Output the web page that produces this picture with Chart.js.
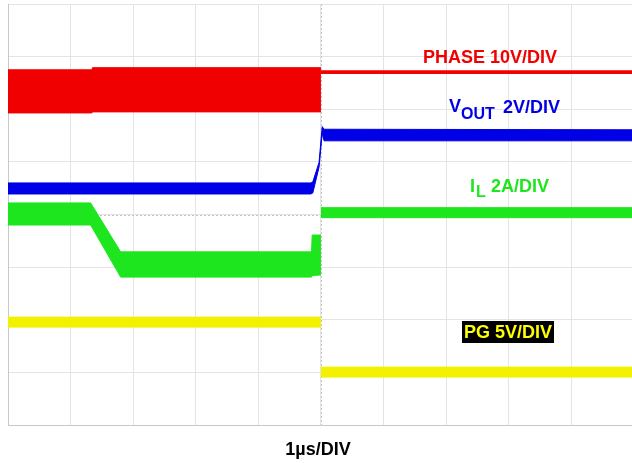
<!DOCTYPE html>
<html>
<head>
<meta charset="utf-8">
<script src="https://cdn.jsdelivr.net/npm/chart.js@4.4.1/dist/chart.umd.min.js"></script>
<style>
  html, body { margin: 0; padding: 0; background: #fff; }
</style>
</head>
<body>
<canvas id="scope" width="632" height="463"></canvas>
<script>
// x = time in divisions (1µs/DIV), y = screen divisions counted from the bottom
// each trace is an envelope: Hi / Lo edges of the switching band, null = break

const phaseX  = [0,    1.34, 1.35, 5.0,  5.0,  5.0,  9.97];
const phaseHi = [6.75, 6.75, 6.79, 6.79, null, 6.73, 6.73];
const phaseLo = [5.93, 5.93, 5.95, 5.95, null, 6.68, 6.68];

const voutX  = [0,    4.84, 4.87, 4.97, 5.02, 5.05, 9.97];
const voutHi = [4.60, 4.60, 4.62, 4.99, 5.67, 5.62, 5.61];
const voutLo = [4.39, 4.39, 4.41, 4.90, 5.54, 5.40, 5.40];

const ilX  = [0,    1.32, 1.80, 4.85, 4.86, 5.0,  5.0,  5.0,  9.97];
const ilHi = [4.22, 4.22, 3.29, 3.29, 3.61, 3.61, null, 4.13, 4.13];
const ilLo = [3.80, 3.80, 2.81, 2.81, 2.84, 2.85, null, 3.94, 3.94];

const pgX  = [0,    5.0,  5.0,  5.0,  9.97];
const pgHi = [2.05, 2.05, null, 1.10, 1.10];
const pgLo = [1.86, 1.86, null, 0.91, 0.91];

const xTicks = [0, 1, 2, 3, 4, 5, 6, 7, 8, 9];
const yTicks = [0, 1, 2, 3, 4, 5, 6, 7, 8];

const RED = '#f00000', BLUE = '#0000e6', GREEN = '#1ee61e', YELLOW = '#f2f200';

function pts(xs, ys) {
    return xs.map((x, i) => ({ x: x, y: ys[i] }));
}

function band(name, xs, hi, lo, color) {
    return [
        { label: name + ' lo', data: pts(xs, lo), borderColor: color, backgroundColor: color,
          borderWidth: 1, pointRadius: 0, fill: false, spanGaps: false },
        { label: name, data: pts(xs, hi), borderColor: color, backgroundColor: color,
          borderWidth: 1, pointRadius: 0, fill: '-1', spanGaps: false }
    ];
}

// center crosshair (dotted) and the text labels
const scopeDecor = {
    id: 'scopeDecor',
    beforeDatasetsDraw(chart) {
        const c = chart.ctx, xs = chart.scales.x, ys = chart.scales.y;
        const cx = xs.getPixelForValue(5), cy = ys.getPixelForValue(4);
        c.save();
        c.strokeStyle = '#c4c4c4';
        c.lineWidth = 1;
        c.setLineDash([2, 2]);
        c.beginPath();
        c.moveTo(Math.round(cx) + 0.5, chart.chartArea.top);
        c.lineTo(Math.round(cx) + 0.5, chart.chartArea.bottom);
        c.moveTo(chart.chartArea.left, Math.round(cy) + 0.5);
        c.lineTo(chart.chartArea.right, Math.round(cy) + 0.5);
        c.stroke();
        c.restore();
    },
    afterDraw(chart) {
        const c = chart.ctx;
        c.save();
        c.textBaseline = 'alphabetic';
        c.textAlign = 'left';
        const big = 'bold 18px "Liberation Sans", Arial, sans-serif';
        const sub = 'bold 16px "Liberation Sans", Arial, sans-serif';

        c.font = big;
        c.fillStyle = RED;
        c.fillText('PHASE 10V/DIV', 423, 63, 137);

        c.fillStyle = BLUE;
        c.fillText('V', 449, 112);
        c.font = sub;
        c.fillText('OUT', 461, 119, 34);
        c.font = big;
        c.fillText('2V/DIV', 503, 113);

        c.fillStyle = GREEN;
        c.fillText('I', 470, 192);
        c.font = sub;
        c.fillText('L', 476, 197);
        c.font = big;
        c.fillText('2A/DIV', 491, 192);

        c.fillStyle = '#000';
        c.fillRect(462, 321, 92, 22);
        c.fillStyle = '#ffff00';
        c.fillText('PG 5V/DIV', 464, 338, 88);

        c.fillStyle = '#000';
        c.textAlign = 'center';
        c.fillText('1\u00b5s/DIV', 318, 455);
        c.restore();
    }
};

new Chart(document.getElementById('scope'), {
    type: 'line',
    data: {
        datasets: [
            ...band('PHASE', phaseX, phaseHi, phaseLo, RED),
            ...band('VOUT', voutX, voutHi, voutLo, BLUE),
            ...band('IL', ilX, ilHi, ilLo, GREEN),
            ...band('PG', pgX, pgHi, pgLo, YELLOW)
        ]
    },
    options: {
        responsive: false,
        animation: false,
        layout: { padding: { left: 8, top: 4, right: 0, bottom: 38 } },
        plugins: { legend: { display: false }, tooltip: { enabled: false } },
        scales: {
            x: {
                type: 'linear', min: 0, max: 9.97,
                afterBuildTicks: s => { s.ticks = xTicks.map(v => ({ value: v })); },
                ticks: { display: false },
                grid: { color: '#e4e4e4', drawTicks: false },
                border: { color: '#c8c8c8' }
            },
            y: {
                min: 0, max: 8,
                afterBuildTicks: s => { s.ticks = yTicks.map(v => ({ value: v })); },
                ticks: { display: false },
                grid: { color: '#e4e4e4', drawTicks: false },
                border: { color: '#c8c8c8' }
            }
        }
    },
    plugins: [scopeDecor]
});
</script>
</body>
</html>
